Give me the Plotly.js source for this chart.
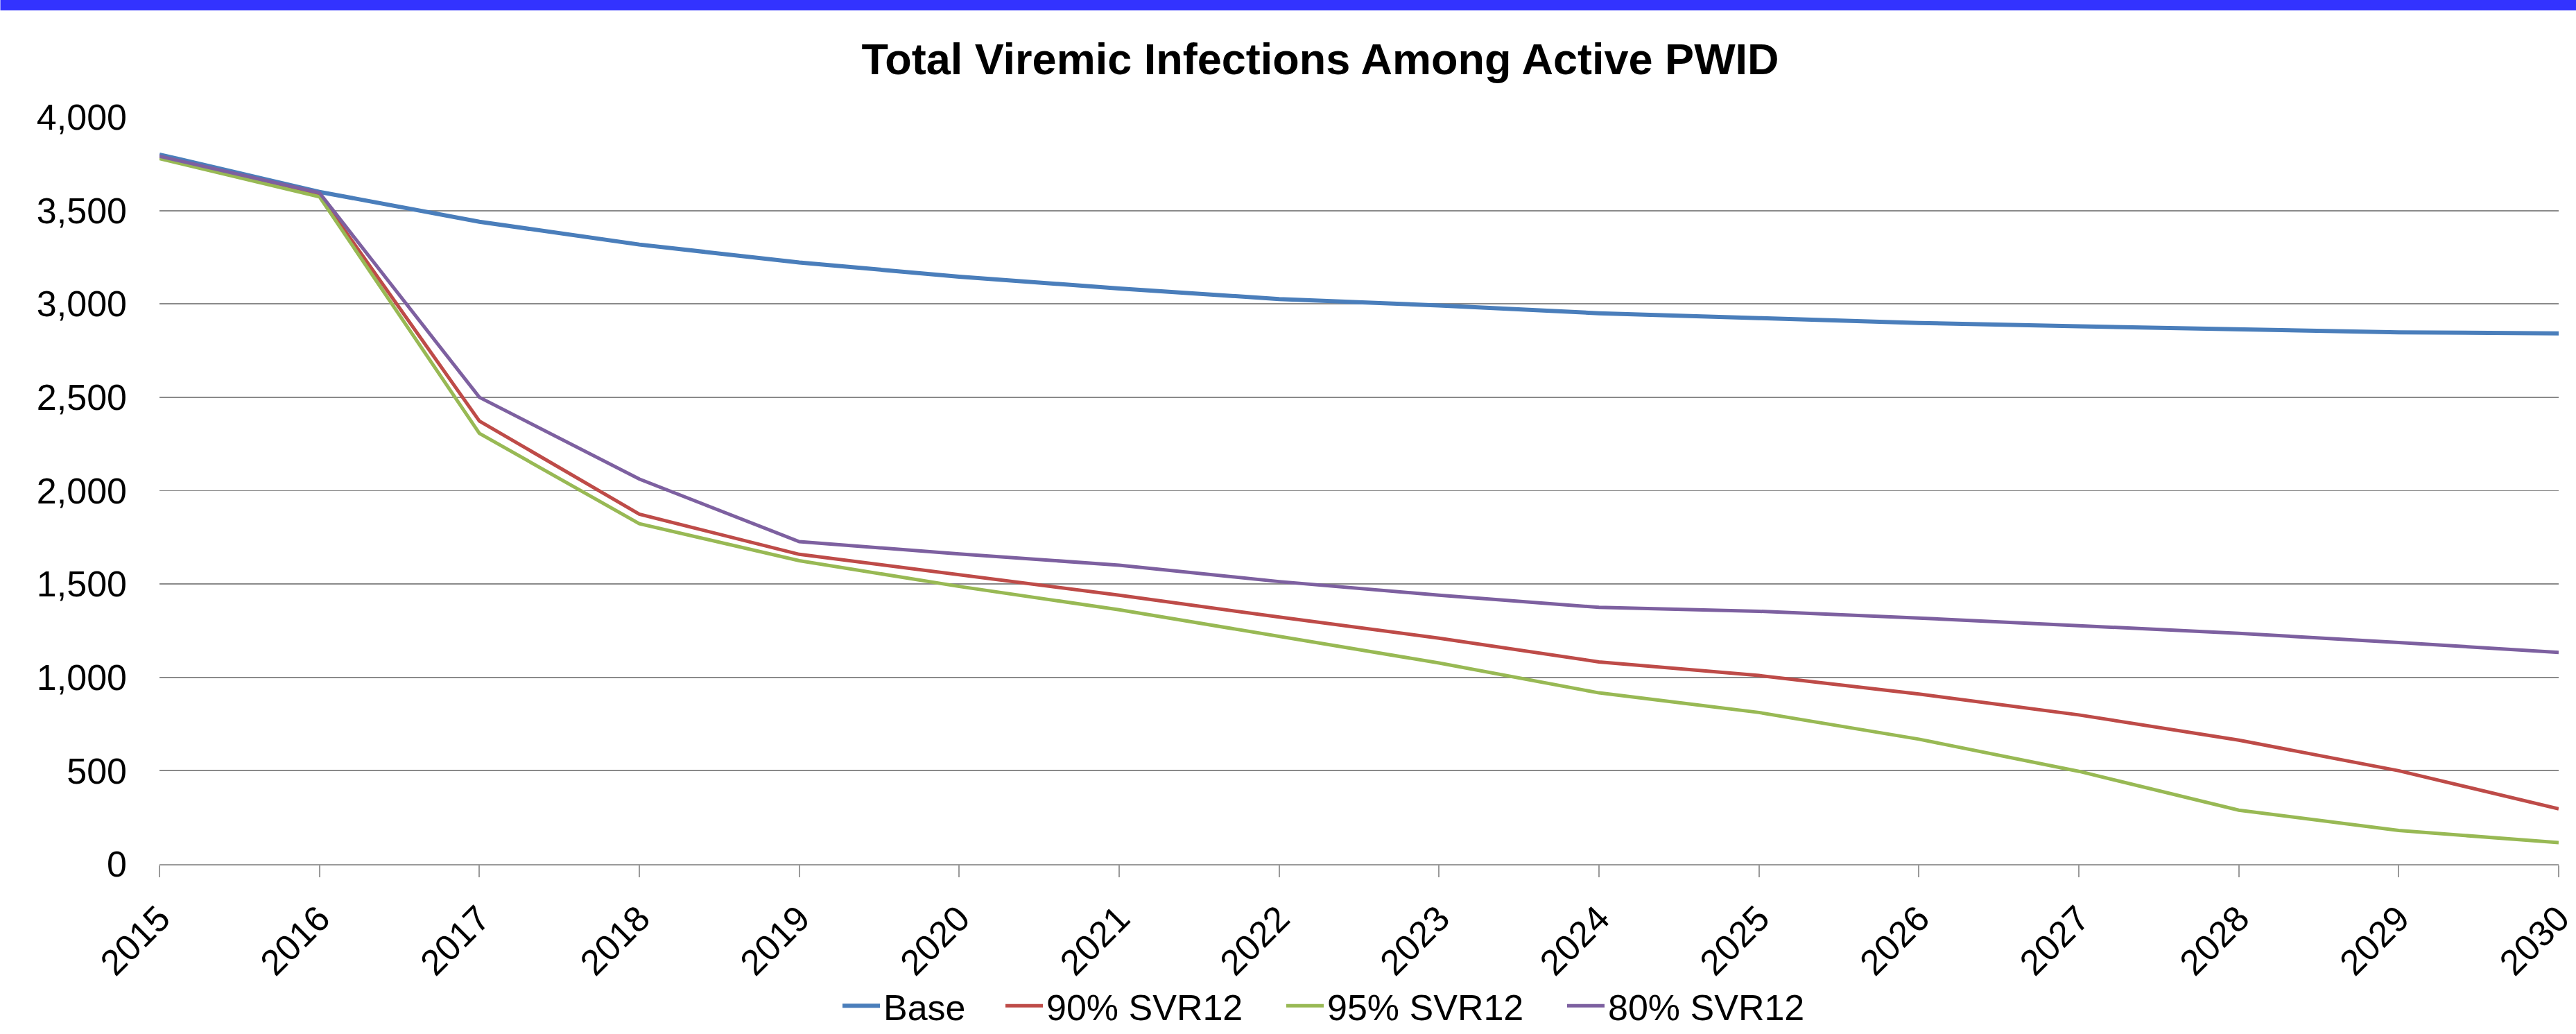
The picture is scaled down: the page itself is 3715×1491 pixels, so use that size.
<!DOCTYPE html>
<html>
<head>
<meta charset="utf-8">
<script src="https://cdn.plot.ly/plotly-3.0.1.min.js"></script>
<style>
  html, body { margin: 0; padding: 0; background: #ffffff; }
  #chart { width: 3715px; height: 1491px; }
</style>
</head>
<body>
<div id="chart"></div>
<script>
// ---- Data ----
const years = ["2015","2016","2017","2018","2019","2020","2021","2022","2023","2024","2025","2026","2027","2028","2029","2030"];
const baseValues  = [3800, 3600, 3440, 3318, 3222, 3146, 3083, 3026, 2992, 2950, 2924, 2898, 2880, 2865, 2848, 2842];
const svr90Values = [3787, 3585, 2373, 1874, 1659, 1549, 1440, 1323, 1210, 1083, 1010, 911, 799, 664, 500, 296];
const svr95Values = [3778, 3574, 2307, 1823, 1625, 1487, 1362, 1221, 1077, 917, 812, 669, 497, 289, 180, 115];
const svr80Values = [3791, 3595, 2500, 2062, 1727, 1661, 1601, 1513, 1440, 1375, 1354, 1318, 1277, 1236, 1187, 1134];
const seriesNames = ["Base", "90% SVR12", "95% SVR12", "80% SVR12"];
const yTickValues = [0, 500, 1000, 1500, 2000, 2500, 3000, 3500, 4000];
const chartTitle = "Total Viremic Infections Among Active PWID";

// ---- Styling ----
const colors = ["#4A7EBB", "#BE4B48", "#98B954", "#7D60A0"];
const widths = [6, 5, 5, 5];
const FONT = "Liberation Sans, Arial, sans-serif";

const W = 3715, H = 1491;
const plotL = 229.5, plotR = 3690, plotT = 169, plotB = 1246;
const pw = plotR - plotL, ph = plotB - plotT;
function px2paperX(p) { return (p - plotL) / pw; }
function px2paperY(p) { return (plotB - p) / ph; }

// legend left edges (page px) for each series entry
const legendLeft = [1210, 1445, 1850, 2255];
const legendKeys = ["legend", "legend2", "legend3", "legend4"];

const allValues = [baseValues, svr90Values, svr95Values, svr80Values];
const traces = allValues.map((vals, i) => ({
  type: "scatter",
  mode: "lines",
  x: years,
  y: vals,
  name: seriesNames[i],
  legend: legendKeys[i],
  line: { color: colors[i], width: widths[i] }
}));

const layout = {
  width: W,
  height: H,
  paper_bgcolor: "#ffffff",
  plot_bgcolor: "#ffffff",
  margin: { l: plotL, r: W - plotR, t: plotT, b: H - plotB, pad: 0 },
  font: { family: FONT, color: "#000000", size: 52 },
  title: {
    text: "<b>" + chartTitle + "</b>",
    font: { family: FONT, size: 63, color: "#000000" },
    xref: "container", x: 1904 / W, xanchor: "center",
    yref: "container", y: 1 - 85 / H, yanchor: "middle"
  },
  showlegend: true,
  xaxis: {
    type: "category",
    range: [0, years.length - 1],
    showgrid: false,
    showline: true,
    linecolor: "#9a9a9a",
    linewidth: 2,
    ticks: "outside",
    ticklen: 17,
    tickwidth: 2,
    tickcolor: "#9a9a9a",
    tickangle: -45,
    ticklabelstandoff: 8,
    tickfont: { family: FONT, size: 52, color: "#000000" },
    zeroline: false,
    fixedrange: true
  },
  yaxis: {
    range: [0, 4000],
    tickvals: yTickValues,
    tickformat: ",d",
    showgrid: true,
    gridcolor: "#8a8a8a",
    gridwidth: 1.8,
    showline: false,
    zeroline: false,
    ticks: "",
    ticklabelstandoff: 46,
    tickfont: { family: FONT, size: 52, color: "#000000" },
    fixedrange: true
  },
  shapes: [{
    type: "rect",
    xref: "paper", yref: "paper",
    x0: px2paperX(0), x1: px2paperX(W),
    y0: px2paperY(15), y1: px2paperY(0),
    fillcolor: "#3333FF",
    line: { width: 0 },
    layer: "above"
  }]
};

legendKeys.forEach((k, i) => {
  layout[k] = {
    orientation: "h",
    xref: "container", yref: "container",
    x: legendLeft[i] / W, xanchor: "left",
    y: 0, yanchor: "bottom",
    itemwidth: 54,
    font: { family: FONT, size: 52, color: "#000000" },
    bgcolor: "rgba(0,0,0,0)",
    borderwidth: 0
  };
});

Plotly.newPlot("chart", traces, layout, { staticPlot: true, displayModeBar: false });
</script>
</body>
</html>
